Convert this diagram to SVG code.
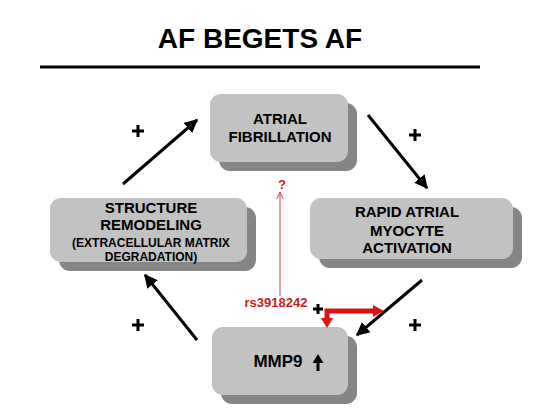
<svg xmlns="http://www.w3.org/2000/svg" width="550" height="412" viewBox="0 0 550 412">
<style>
.front{fill:#c2c2c2}
.shadow{fill:#858585}
.t{font-family:"Liberation Sans",Arial,sans-serif;font-weight:bold;fill:#000;text-anchor:middle}
.arr{stroke:#000;stroke-width:3;fill:none;marker-end:url(#ah)}
.plus{stroke:#000;stroke-width:3}
.red{fill:#e01010}
</style>
<defs>
<marker id="ah" viewBox="0 0 10 10" refX="9" refY="5" markerWidth="4.5" markerHeight="4.5" orient="auto" markerUnits="strokeWidth">
<path d="M0,0 L10,5 L0,10 z" fill="#000"/>
</marker>
<marker id="th" viewBox="0 0 10 10" refX="9" refY="5" markerWidth="8" markerHeight="8" orient="auto" markerUnits="strokeWidth">
<path d="M0,1 L9,5 L0,9" fill="none" stroke="#d04040" stroke-width="1.2"/>
</marker>
</defs>
<rect width="550" height="412" fill="#fff"/>
<text class="t" x="260" y="48" font-size="28">AF BEGETS AF</text>
<line x1="40" y1="67" x2="480" y2="67" stroke="#000" stroke-width="3"/>

<g id="af">
<rect class="shadow" x="219" y="103" width="138" height="68" rx="11"/>
<rect class="front" x="210" y="94" width="138" height="68" rx="11"/>
<text class="t" x="280" y="124" font-size="15">ATRIAL</text>
<text class="t" x="280" y="142" font-size="15">FIBRILLATION</text>
</g>

<g id="rapid">
<rect class="shadow" x="319" y="207" width="203" height="61" rx="11"/>
<rect class="front" x="310" y="198" width="203" height="61" rx="11"/>
<text class="t" x="407" y="217" font-size="15">RAPID ATRIAL</text>
<text class="t" x="407" y="236" font-size="15">MYOCYTE</text>
<text class="t" x="407" y="253" font-size="15">ACTIVATION</text>
</g>

<g id="structure">
<rect class="shadow" x="59" y="207" width="197" height="64" rx="11"/>
<rect class="front" x="50" y="198" width="197" height="64" rx="11"/>
<text class="t" x="151" y="213" font-size="15">STRUCTURE</text>
<text class="t" x="151" y="230" font-size="15">REMODELING</text>
<text class="t" x="151" y="247" font-size="12">(EXTRACELLULAR MATRIX</text>
<text class="t" x="151" y="261" font-size="12">DEGRADATION)</text>
</g>

<g id="mmp9">
<rect class="shadow" x="221" y="336" width="136" height="68" rx="11"/>
<rect class="front" x="212" y="327" width="136" height="68" rx="11"/>
<text class="t" x="278" y="367" font-size="17">MMP9</text>
<line x1="318" y1="371" x2="318" y2="361" stroke="#000" stroke-width="3"/>
<path d="M312.5,363 L318,354 L323.5,363 z" fill="#000"/>
</g>

<g id="connectors">
<line class="arr" x1="123" y1="184" x2="197" y2="120"/>
<line class="arr" x1="368" y1="115" x2="427" y2="188"/>
<line class="arr" x1="422" y1="280" x2="357" y2="335"/>
<line class="arr" x1="197" y1="340" x2="145" y2="275"/>
<line x1="280" y1="296" x2="280" y2="192" stroke="#d04040" stroke-width="1" marker-end="url(#th)"/>
<path d="M327,319 V311 H374" stroke="#e01010" stroke-width="5" fill="none"/>
<path class="red" d="M373,305 L384,311 L373,317 z"/>
<path class="red" d="M321,318 L327,328 L333,318 z"/>
</g>

<g id="labels">
<text x="282" y="189" font-family="Liberation Sans,Arial,sans-serif" font-weight="bold" font-size="13" fill="#d02020" text-anchor="middle">?</text>
<text x="276" y="307" font-family="Liberation Sans,Arial,sans-serif" font-weight="bold" font-size="13" fill="#c82020" text-anchor="middle">rs3918242</text>
<path class="plus" d="M132,131 H144 M138,125 V137"/>
<path class="plus" d="M409,135 H421 M415,129 V141"/>
<path class="plus" d="M132,325 H144 M138,319 V331"/>
<path class="plus" d="M409,325 H421 M415,319 V331"/>
<path class="plus" d="M313,309 H323 M318,304 V314"/>
</g>
</svg>
